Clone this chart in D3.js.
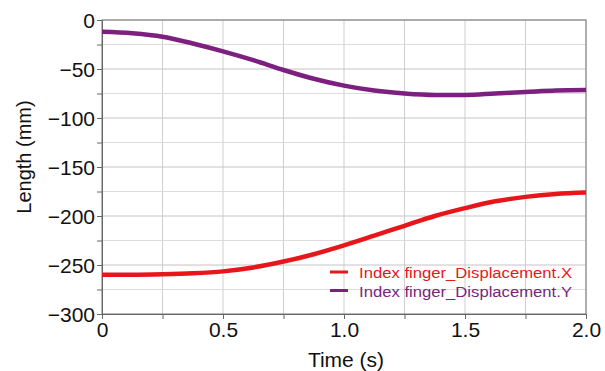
<!DOCTYPE html>
<html>
<head>
<script src="https://d3js.org/d3.v7.min.js"></script>
<style>
  body { margin: 0; background: #fff; }
  text { font-family: "Liberation Sans", Arial, sans-serif; }
</style>
</head>
<body>
<div id="chart"></div>
<script>
// time samples (s)
var time = [0, 0.125, 0.25, 0.375, 0.5, 0.625, 0.75, 0.875, 1.0, 1.125, 1.25, 1.375, 1.5, 1.625, 1.75, 1.875, 2.0];
// Index finger displacement X (mm)
var dispX = [-260, -260, -259.5, -258.5, -256.5, -252.5, -246.5, -239, -230, -220, -210, -200, -192, -185, -180.5, -177.5, -176];
// Index finger displacement Y (mm)
var dispY = [-12, -13.5, -17, -24, -32, -41, -51, -60, -67, -72, -75, -76.5, -76.5, -75, -73.5, -72, -71.5];
var seriesNames = ["Index finger_Displacement.X", "Index finger_Displacement.Y"];
var seriesColors = ["#e8161b", "#7c1f7f"];
var xTicks = [0, 0.5, 1.0, 1.5, 2.0];
var yTicks = [0, -50, -100, -150, -200, -250, -300];

var W = 605, H = 371;
var m = {left: 102, right: 19, top: 20, bottom: 57};

var svg = d3.select("#chart").append("svg")
    .attr("width", W).attr("height", H);

var x = d3.scaleLinear().domain([0, 2]).range([m.left, W - m.right]);
var y = d3.scaleLinear().domain([-300, 0]).range([H - m.bottom, m.top]);

// grid
var g = svg.append("g");
g.selectAll(".vg").data(d3.range(0.25, 2.01, 0.25)).enter().append("line")
    .attr("x1", d => x(d)).attr("x2", d => x(d))
    .attr("y1", y(0)).attr("y2", y(-300))
    .attr("stroke", "#cfcfcf").attr("stroke-width", 1);
g.selectAll(".hg").data(d3.range(-275, 1, 25)).enter().append("line")
    .attr("x1", x(0)).attr("x2", x(2))
    .attr("y1", d => y(d)).attr("y2", d => y(d))
    .attr("stroke", d => d % 50 === 0 ? "#c4c4c4" : "#dcdcdc").attr("stroke-width", 1);

// frame
svg.append("rect")
    .attr("x", x(0)).attr("y", y(0))
    .attr("width", x(2) - x(0)).attr("height", y(-300) - y(0))
    .attr("fill", "none").attr("stroke", "#777").attr("stroke-width", 1);

// axes
var yAxis = d3.axisLeft(y).tickValues(d3.range(-300, 1, 25)).tickSize(5)
    .tickFormat(d => yTicks.indexOf(d) >= 0 ? (d < 0 ? "\u2212" + Math.abs(d) : d) : "");
var ya = svg.append("g").attr("transform", "translate(" + x(0) + ",0)").call(yAxis);
var xAxis = d3.axisBottom(x).tickValues(d3.range(0, 2.01, 0.25)).tickSize(5)
    .tickFormat(d => xTicks.indexOf(d) >= 0 ? (d === 0 ? "0" : d3.format(".1f")(d)) : "");
var xa = svg.append("g").attr("transform", "translate(0," + y(-300) + ")").call(xAxis);
[ya, xa].forEach(function(a) {
  a.select(".domain").attr("stroke", "#666");
  a.selectAll(".tick line").attr("stroke", "#666");
  a.selectAll("text").attr("font-size", 21).attr("fill", "#111")
    .style("font-family", "'Liberation Sans', Arial, sans-serif");
});
ya.selectAll("text").attr("x", -7).attr("dy", "0.36em");
xa.selectAll("text").attr("y", 8).attr("dy", "0.72em");

// titles
svg.append("text").attr("transform", "translate(31,157) rotate(-90)")
    .attr("text-anchor", "middle").attr("font-size", 20).attr("fill", "#111").text("Length (mm)");
svg.append("text").attr("x", 346).attr("y", 367)
    .attr("text-anchor", "middle").attr("font-size", 21).attr("fill", "#111").text("Time (s)");

// lines
var line = d3.line().curve(d3.curveMonotoneX);
[dispX, dispY].forEach(function(vals, i) {
  svg.append("path")
    .attr("d", line(vals.map((v, j) => [x(time[j]), y(v)])))
    .attr("fill", "none").attr("stroke", seriesColors[i]).attr("stroke-width", 4.5);
});

// legend
var lg = svg.append("g").attr("transform", "translate(330,272)");
seriesNames.forEach(function(n, i) {
  lg.append("line").attr("x1", 0).attr("x2", 18).attr("y1", i * 18.5).attr("y2", i * 18.5)
    .attr("stroke", seriesColors[i]).attr("stroke-width", 3);
  lg.append("text").attr("x", 29).attr("y", i * 18.5 + 6).attr("font-size", 15.5)
    .attr("textLength", 213).attr("lengthAdjust", "spacingAndGlyphs")
    .attr("fill", seriesColors[i]).text(n);
});
</script>
</body>
</html>
